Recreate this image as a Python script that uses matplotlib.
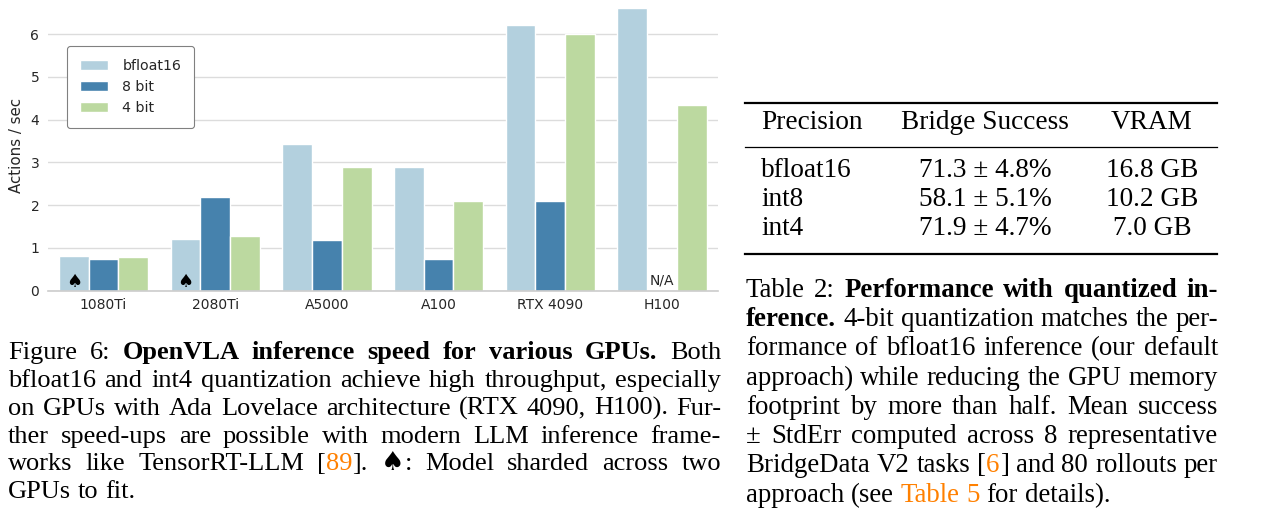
import matplotlib
matplotlib.use('Agg')
import matplotlib.pyplot as plt
from matplotlib.lines import Line2D
import numpy as np

W, H, DPI = 1283, 530, 100

# ---------------- data ----------------
gpus = ['1080Ti', '2080Ti', 'A5000', 'A100', 'RTX 4090', 'H100']
series_names = ['bfloat16', '8 bit', '4 bit']
bf16_speed = [0.81, 1.20, 3.42, 2.90, 6.21, 6.60]
int8_speed = [0.74, 2.18, 1.18, 0.73, 2.10, None]   # None -> N/A on H100
int4_speed = [0.78, 1.27, 2.90, 2.10, 5.99, 4.34]
sharded_gpus = ['1080Ti', '2080Ti']
yticks = [0, 1, 2, 3, 4, 5, 6]
ylabel = 'Actions / sec'

table_header = ['Precision', 'Bridge Success', 'VRAM']
table_precision = ['bfloat16', 'int8', 'int4']
table_success = ['71.3 ± 4.8%', '58.1 ± 5.1%', '71.9 ± 4.7%']
table_vram = ['16.8 GB', '10.2 GB', '7.0 GB']

fig_caption = [
    [('n', 'Figure 6:  '), ('b', 'OpenVLA inference speed for various GPUs.'), ('n', ' Both')],
    [('n', 'bfloat16 and int4 quantization achieve high throughput, especially')],
    [('n', 'on GPUs with Ada Lovelace architecture (RTX 4090, H100). Fur-')],
    [('n', 'ther speed-ups are possible with modern LLM inference frame-')],
    [('n', 'works like TensorRT-LLM ['), ('o', '89'), ('n', '].  '), ('s', '♠'), ('n', ': Model sharded across two')],
    [('n', 'GPUs to fit.')],
]
tab_caption = [
    [('n', 'Table 2: '), ('b', 'Performance with quantized in-')],
    [('b', 'ference.'), ('n', ' 4-bit quantization matches the per-')],
    [('n', 'formance of bfloat16 inference (our default')],
    [('n', 'approach) while reducing the GPU memory')],
    [('n', 'footprint by more than half. Mean success')],
    [('n', '± StdErr computed across 8 representative')],
    [('n', 'BridgeData V2 tasks ['), ('o', '6'), ('n', '] and 80 rollouts per')],
    [('n', 'approach (see '), ('o', 'Table 5'), ('n', ' for details).')],
]

# ---------------- styling ----------------
C_BF16 = '#b3d0de'
C_INT8 = '#4682ad'
C_INT4 = '#bcd9a0'
TXT = '#262626'
ORANGE = '#ff8000'

fig = plt.figure(figsize=(W / DPI, H / DPI), dpi=DPI)
renderer = fig.canvas.get_renderer()

# ---------------- bar chart ----------------
y0_px, unit_px = 290.7, 42.78
ax_left, ax_right = 47.7, 717.7
ymax = 6.8
ax = fig.add_axes([ax_left / W, (H - y0_px) / H, (ax_right - ax_left) / W, ymax * unit_px / H])

x = np.arange(len(gpus))
bw = 0.8 / 3
series = [bf16_speed, int8_speed, int4_speed]
colors = [C_BF16, C_INT8, C_INT4]
for k, (vals, col, name) in enumerate(zip(series, colors, series_names)):
    idx = [i for i, v in enumerate(vals) if v is not None]
    ax.bar(x[idx] + (k - 1) * bw, [vals[i] for i in idx], bw, color=col,
           edgecolor='white', linewidth=1.0, label=name, zorder=2)

for g in sharded_gpus:
    i = gpus.index(g)
    ax.text(i - bw, 0.21, '♠', ha='center', va='center', fontsize=13,
            family='DejaVu Sans', color='black', zorder=3)
for i, v in enumerate(int8_speed):
    if v is None:
        ax.text(i, 0.24, 'N/A', ha='center', va='center', fontsize=10,
                family='DejaVu Sans', color=TXT, zorder=3)

ax.set_xlim(-0.5, len(gpus) - 0.5)
ax.set_ylim(0, ymax)
ax.set_xticks(x)
ax.set_xticklabels(gpus)
ax.set_yticks(yticks)
ax.set_yticklabels([str(t) for t in yticks])
ax.tick_params(axis='both', length=0, labelsize=10, labelcolor=TXT)
ax.tick_params(axis='y', pad=6)
ax.tick_params(axis='x', pad=5)
ax.set_ylabel(ylabel, fontsize=10.8, color=TXT, labelpad=5)
ax.yaxis.grid(True, color='#dcdcdc', linewidth=1.0, zorder=0)
ax.set_axisbelow(True)
for s in ['left', 'top', 'right']:
    ax.spines[s].set_visible(False)
ax.spines['bottom'].set_color('#cccccc')
ax.spines['bottom'].set_linewidth(1.2)
ax.set_facecolor('white')

leg = ax.legend(loc='upper left', bbox_to_anchor=(67 / W, 1 - 46 / H),
                bbox_transform=fig.transFigure, borderaxespad=0, borderpad=0.9,
                handlelength=2.0, handletextpad=1.0, labelspacing=0.5,
                fancybox=True, framealpha=1, fontsize=10.2)
leg.get_frame().set_edgecolor('#808080')
leg.get_frame().set_linewidth(0.8)
for t in leg.get_texts():
    t.set_color(TXT)

# ---------------- text helpers ----------------
STYLES = {
    'n': dict(family=['Liberation Serif', 'DejaVu Serif'], weight='normal', color='black'),
    'b': dict(family=['Liberation Serif', 'DejaVu Serif'], weight='bold', color='black'),
    'o': dict(family=['Liberation Serif', 'DejaVu Serif'], weight='normal', color=ORANGE),
    's': dict(family=['DejaVu Sans'], weight='normal', color='black'),
}


def fpos(xp, yp):
    return xp / W, 1 - yp / H


def measure(text, style, size):
    t = fig.text(0, 0, text, fontsize=size, **STYLES[style])
    w = t.get_window_extent(renderer).width
    t.remove()
    return w


def adv(text, style, size):
    return measure('|' + text + '|', style, size) - measure('||', style, size)


def split_words(segments):
    words, cur = [], []
    for style, text in segments:
        parts = text.split(' ')
        for i, p in enumerate(parts):
            if i > 0 and cur:
                words.append(cur)
                cur = []
            if p:
                cur.append((style, p))
    if cur:
        words.append(cur)
    return words


def draw_line(segments, x0, x1, y, size, justify=True):
    words = split_words(segments)
    widths = [sum(adv(t, s, size) for s, t in w) for w in words]
    if justify and len(words) > 1:
        gap = (x1 - x0 - sum(widths)) / (len(words) - 1)
    else:
        gap = adv(' ', 'n', size)
    xp = x0
    for w, wd in zip(words, widths):
        xx = xp
        for s, t in w:
            fx, fy = fpos(xx, y)
            fig.text(fx, fy, t, fontsize=size, va='baseline', ha='left', **STYLES[s])
            xx += adv(t, s, size)
        xp += wd + gap


def draw_paragraph(lines, x0, x1, y_first, pitch, size):
    for k, seg in enumerate(lines):
        draw_line(seg, x0, x1, y_first + k * pitch, size, justify=(k < len(lines) - 1))


# ---------------- captions ----------------
draw_paragraph(fig_caption, 8, 721, 359.3, 27.8, 19.0)
draw_paragraph(tab_caption, 746, 1218, 296.7, 29.3, 19.4)

# ---------------- table ----------------
TS = 19.6
tx0, tx1 = 745, 1217
for yy, lw in [(102.7, 1.6), (146.7, 0.9), (254.0, 1.6)]:
    fig.add_artist(Line2D([tx0 / W, tx1 / W], [1 - yy / H] * 2, transform=fig.transFigure,
                          color='black', linewidth=lw))
col_x = [761, 985, 1152]
col_ha = ['left', 'center', 'center']
hdr_y = 129.3
for cx, ha, txt in zip(col_x, col_ha, table_header):
    fx, fy = fpos(cx, hdr_y)
    fig.text(fx, fy, txt, fontsize=TS, ha=ha, va='baseline', **STYLES['n'])
row_y = [176.7, 205.7, 234.7]
for ry, p, s, v in zip(row_y, table_precision, table_success, table_vram):
    for cx, ha, txt in zip(col_x, col_ha, [p, s, v]):
        fx, fy = fpos(cx, ry)
        fig.text(fx, fy, txt, fontsize=TS, ha=ha, va='baseline', **STYLES['n'])

fig.savefig('out.png', dpi=DPI, facecolor='white')
